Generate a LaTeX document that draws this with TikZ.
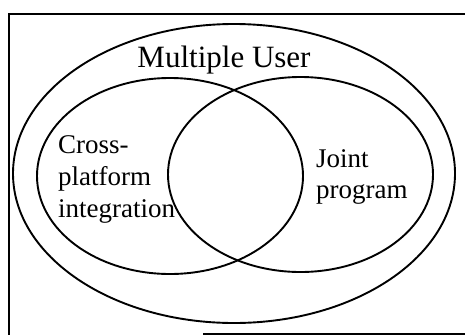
\documentclass[tikz,border=0pt]{standalone}
\usepackage{fontspec}
\setmainfont{Liberation Serif}
\begin{document}
\begin{tikzpicture}[x=1pt,y=-1pt,
  ring/.style={line width=1.9pt},
  frameline/.style={line width=2pt},
  lbl/.style={inner sep=0pt,anchor=base west,align=left,font=\fontsize{27}{32}\selectfont}]
\useasboundingbox (0,0) rectangle (465,335);
% frame (scanned, partly cut)
\draw[frameline] (465,13.5) -- (8.5,13.5) -- (8.5,335);
\draw[frameline] (203,333.5) -- (465,333.5);
% sets
\coordinate (outer) at (234,173.5);
\coordinate (leftc) at (170,176);
\coordinate (rightc) at (300.5,174.5);
\draw[ring] (outer) ellipse [x radius=221, y radius=149.5];
\draw[ring] (leftc) ellipse [x radius=133, y radius=98];
\draw[ring] (rightc) ellipse [x radius=132.5, y radius=97.5];
% labels (base anchor = last line's baseline)
\node[inner sep=0pt,anchor=base,font=\fontsize{31}{36}\selectfont] (mu) at (224,67) {Multiple User};
\node[lbl] (cp) at (58,217) {Cross-\\platform\\integration};
\node[lbl,font=\fontsize{27}{31}\selectfont] (jp) at (316,198) {Joint\\program};
\end{tikzpicture}
\end{document}
